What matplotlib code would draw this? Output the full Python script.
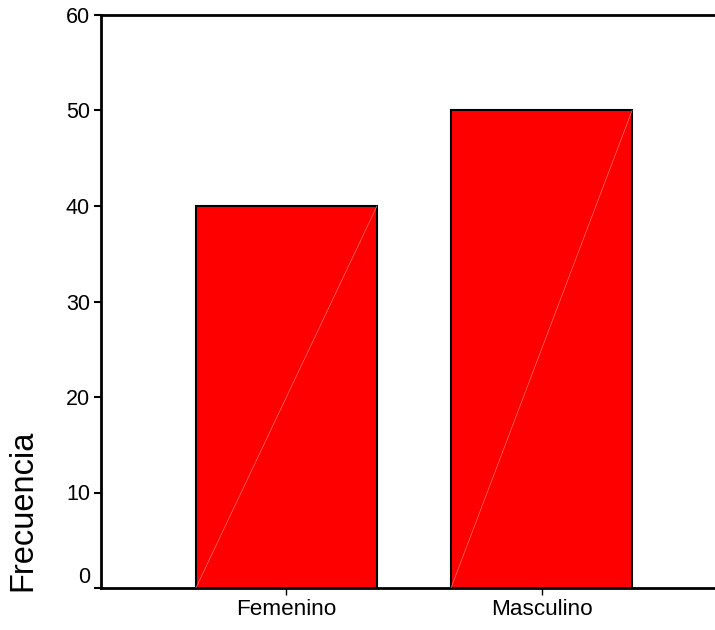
import matplotlib.pyplot as plt
import numpy as np

categories = ['Femenino', 'Masculino']
counts = [40, 50]
y_ticks = [0, 10, 20, 30, 40, 50, 60]

plt.rcParams['font.family'] = ['Liberation Sans', 'DejaVu Sans']

fig = plt.figure(figsize=(7.15, 6.3), dpi=100)
ax = fig.add_axes([101 / 715, 42 / 630, 614 / 715, 573 / 630])

x = np.arange(len(categories))
width = 0.71
ax.bar(x, counts, width=width, color='#ff0000', edgecolor='black',
       linewidth=1.5, zorder=2)

# faint diagonal inside each bar
for xi, c in zip(x, counts):
    ax.plot([xi - width / 2, xi + width / 2], [0, c], color='#ff7070',
            linewidth=0.5, zorder=3)

ax.set_xlim(-0.727, 1.68)
ax.set_ylim(0, 60)
ax.set_xticks(x)
ax.set_xticklabels(categories, fontsize=16.2)
ax.set_yticks(y_ticks)
ax.set_yticklabels([str(t) for t in y_ticks], fontsize=15.5)
ax.tick_params(axis='y', direction='out', length=5, width=1.5, pad=3)
ax.tick_params(axis='x', direction='out', length=5, width=1, pad=3)

# the zero label sits just above the baseline
ax.get_yticklabels()[0].set_va('bottom')

for side in ['left', 'bottom', 'top']:
    ax.spines[side].set_linewidth(2)
ax.spines['right'].set_visible(False)

ax.set_ylabel('Frecuencia', fontsize=23.5)
ax.yaxis.set_label_coords(-0.127, 0.136)
ax.yaxis.label.set_va('center')

fig.savefig('out.png', dpi=100)
